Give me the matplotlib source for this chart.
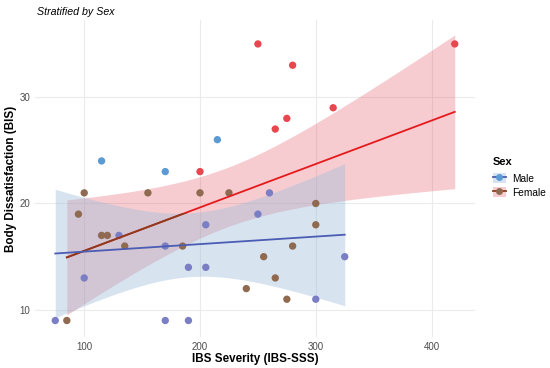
import numpy as np
import matplotlib.pyplot as plt
from matplotlib.patches import Patch
from matplotlib.lines import Line2D

plt.rcParams['font.family'] = ['Liberation Sans', 'DejaVu Sans']

# data
female_x = [85, 95, 100, 115, 120, 135, 155, 185, 200, 200, 225, 240,
            255, 265, 275, 280, 300, 300, 250, 280, 265, 275, 315, 420]
female_y = [9, 19, 21, 17, 17, 16, 21, 16, 23, 21, 21, 12,
            15, 13, 11, 16, 20, 18, 35, 33, 27, 28, 29, 35]
male_x = [75, 100, 115, 130, 170, 170, 170, 190, 190, 205, 205, 215,
          250, 260, 300, 325]
male_y = [9, 13, 24, 17, 23, 16, 9, 14, 9, 18, 14, 26,
          19, 21, 11, 15]

x_ticks = [100, 200, 300, 400]
y_ticks = [10, 20, 30]

T975 = {14: 2.1448, 22: 2.0739}


#----------------------------------------------------------------------
def fit_band(x, y, grid):
	x = np.asarray(x, float)
	y = np.asarray(y, float)
	n = len(x)
	b, a = np.polyfit(x, y, 1)
	resid = y - (a + b * x)
	s = np.sqrt(np.sum(resid ** 2) / (n - 2))
	sxx = np.sum((x - x.mean()) ** 2)
	grid = np.asarray(grid, float)
	fit = a + b * grid
	se = s * np.sqrt(1.0 / n + (grid - x.mean()) ** 2 / sxx)
	t = T975[n - 2]
	return fit, fit - t * se, fit + t * se
#----------------------------------------------------------------------

f_grid = np.linspace(min(female_x), max(female_x), 80)
m_grid = np.linspace(min(male_x), max(male_x), 80)
f_fit, f_lo, f_hi = fit_band(female_x, female_y, f_grid)
m_fit, m_lo, m_hi = fit_band(male_x, male_y, m_grid)

# points up in the clear area keep their pure colour, the rest look tinted
clear_above = 22
f_cols = np.where(np.array(female_y) > clear_above, '#E8474F', '#8F6A50')
m_cols = np.where(np.array(male_y) > clear_above, '#5B9BD5', '#7A7EC4')

fig = plt.figure(figsize=(5.5, 3.68), dpi=100)
ax = fig.add_axes([35 / 550, 31 / 368, 440 / 550, 317 / 368])

ax.fill_between(f_grid, f_lo, f_hi, color=(227 / 255, 55 / 255, 75 / 255), alpha=0.25, lw=0, zorder=1)
band_m = ax.fill_between(m_grid, m_lo, m_hi, color='#9BBCDA', alpha=0.4, lw=0, zorder=2)

ax.scatter(female_x, female_y, s=28, c=list(f_cols), edgecolors='none', zorder=3)
ax.scatter(male_x, male_y, s=28, c=list(m_cols), edgecolors='none', zorder=3)

ax.plot(f_grid, f_fit, color='#E41A1C', lw=1.3, zorder=4)
ln2, = ax.plot(f_grid, f_fit, color='#8C3C1E', lw=1.3, zorder=4.5)
ln2.set_clip_path(band_m.get_paths()[0], ax.transData)
ax.plot(m_grid, m_fit, color='#4B5CB3', lw=1.3, zorder=5)

ax.set_xlim(57.5, 437.5)
ax.set_ylim(7.45, 37.25)
ax.set_xticks(x_ticks)
ax.set_yticks(y_ticks)
for sp in ax.spines.values():
	sp.set_visible(False)
ax.grid(True, color='#EBEBEB', lw=0.8)
ax.set_axisbelow(True)
ax.tick_params(length=0, labelsize=7, labelcolor='#4D4D4D', pad=3.5)

ax.set_xlabel('IBS Severity (IBS-SSS)', fontsize=8.4, fontweight='bold', labelpad=1)
ax.set_ylabel('Body Dissatisfaction (BIS)', fontsize=8.4, fontweight='bold', labelpad=1.5)

fig.text(37 / 550, 1 - 12 / 368, 'Stratified by Sex', style='italic', fontsize=7.7, va='center')

# legend
fig.text(493 / 550, 1 - 162 / 368, 'Sex', fontsize=8, fontweight='bold', va='center')
handles = [
	(Patch(facecolor='#D7E4F0', edgecolor='none'),
	 Line2D([], [], color='#4B5CB3', lw=1.3, marker='o', markersize=5,
	        markerfacecolor='#5B9BD5', markeredgecolor='none')),
	(Patch(facecolor='#F8CDD2', edgecolor='none'),
	 Line2D([], [], color='#8C3C1E', lw=1.3, marker='o', markersize=5,
	        markerfacecolor='#8F6A50', markeredgecolor='none')),
]
fig.legend(handles, ['Male', 'Female'], loc='upper left',
           bbox_to_anchor=(493 / 550, 1 - 173 / 368), frameon=False, fontsize=7.3,
           handlelength=1.28, handleheight=1.18, handletextpad=0.6, labelspacing=0.35,
           borderpad=0, borderaxespad=0)

fig.savefig('out.png', dpi=100)
